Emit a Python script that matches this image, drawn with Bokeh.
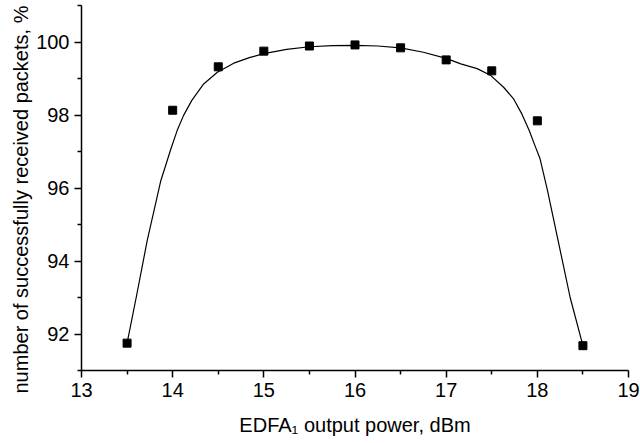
from bokeh.plotting import figure
from bokeh.models import FixedTicker, Range1d, Title
from bokeh.embed import file_html
from bokeh.resources import INLINE

# measured points
power = [13.5, 14.0, 14.5, 15.0, 15.5, 16.0, 16.5, 17.0, 17.5, 18.0, 18.5]
received = [91.75, 98.13, 99.32, 99.75, 99.89, 99.92, 99.84, 99.51, 99.21, 97.84, 91.68]

# fitted curve
fit_x = [13.5, 13.6, 13.72, 13.87, 13.98, 14.05, 14.12, 14.21, 14.34, 14.49, 14.67, 14.85,
         15.0, 15.25, 15.5, 15.75, 16.0, 16.25, 16.5, 16.75, 17.0, 17.16, 17.34, 17.49,
         17.63, 17.74, 17.83, 17.91, 17.98, 18.03, 18.11, 18.25, 18.36, 18.5]
fit_y = [91.75, 93.0, 94.55, 96.2, 97.07, 97.58, 97.99, 98.40, 98.85, 99.17, 99.42, 99.58,
         99.68, 99.80, 99.87, 99.90, 99.91, 99.89, 99.84, 99.72, 99.55, 99.40, 99.27, 99.08,
         98.76, 98.44, 98.03, 97.58, 97.12, 96.80, 95.95, 94.3, 93.0, 91.68]

x_major = [13, 14, 15, 16, 17, 18, 19]
x_minor = [13.5, 14.5, 15.5, 16.5, 17.5, 18.5]
y_major = [92, 94, 96, 98, 100]
y_minor = [91, 93, 95, 97, 99, 101]

x_title = "EDFA\u2081 output power, dBm"
y_title = "number of successfully received packets, %"

FONT = "Liberation Sans"

p = figure(width=640, height=443, output_backend="svg", toolbar_location=None,
           x_range=Range1d(13, 19), y_range=Range1d(91, 101),
           min_border_left=81, min_border_right=12, min_border_top=5, min_border_bottom=73)
p.outline_line_color = None
p.xgrid.visible = False
p.ygrid.visible = False
p.background_fill_color = "white"
p.border_fill_color = "white"

p.line(fit_x, fit_y, line_color="black", line_width=1.2)
p.scatter(power, received, marker="square", size=8, fill_color="black", line_color="black")

p.xaxis.ticker = FixedTicker(ticks=x_major, minor_ticks=x_minor)
p.yaxis.ticker = FixedTicker(ticks=y_major, minor_ticks=y_minor)

for ax in (p.xaxis[0], p.yaxis[0]):
    ax.axis_line_color = "black"
    ax.axis_line_width = 1.5
    ax.major_tick_line_width = 1.5
    ax.minor_tick_line_width = 1.5
    ax.major_tick_in = 0
    ax.major_tick_out = 7
    ax.minor_tick_in = 0
    ax.minor_tick_out = 4
    ax.major_label_text_font = FONT
    ax.major_label_text_font_size = "20px"
    ax.major_label_text_color = "black"
    ax.major_label_standoff = 5
    ax.axis_label_text_font = FONT
    ax.axis_label_text_font_size = "20px"
    ax.axis_label_text_font_style = "normal"
    ax.axis_label_text_color = "black"

p.xaxis.axis_label = x_title
p.xaxis.axis_label_standoff = 14

yt = Title(text=y_title, align="left", offset=-23, standoff=4,
           text_font=FONT, text_font_size="20px", text_font_style="normal",
           text_color="black")
p.add_layout(yt, "left")

open("out.html", "w").write(file_html(p, INLINE))
